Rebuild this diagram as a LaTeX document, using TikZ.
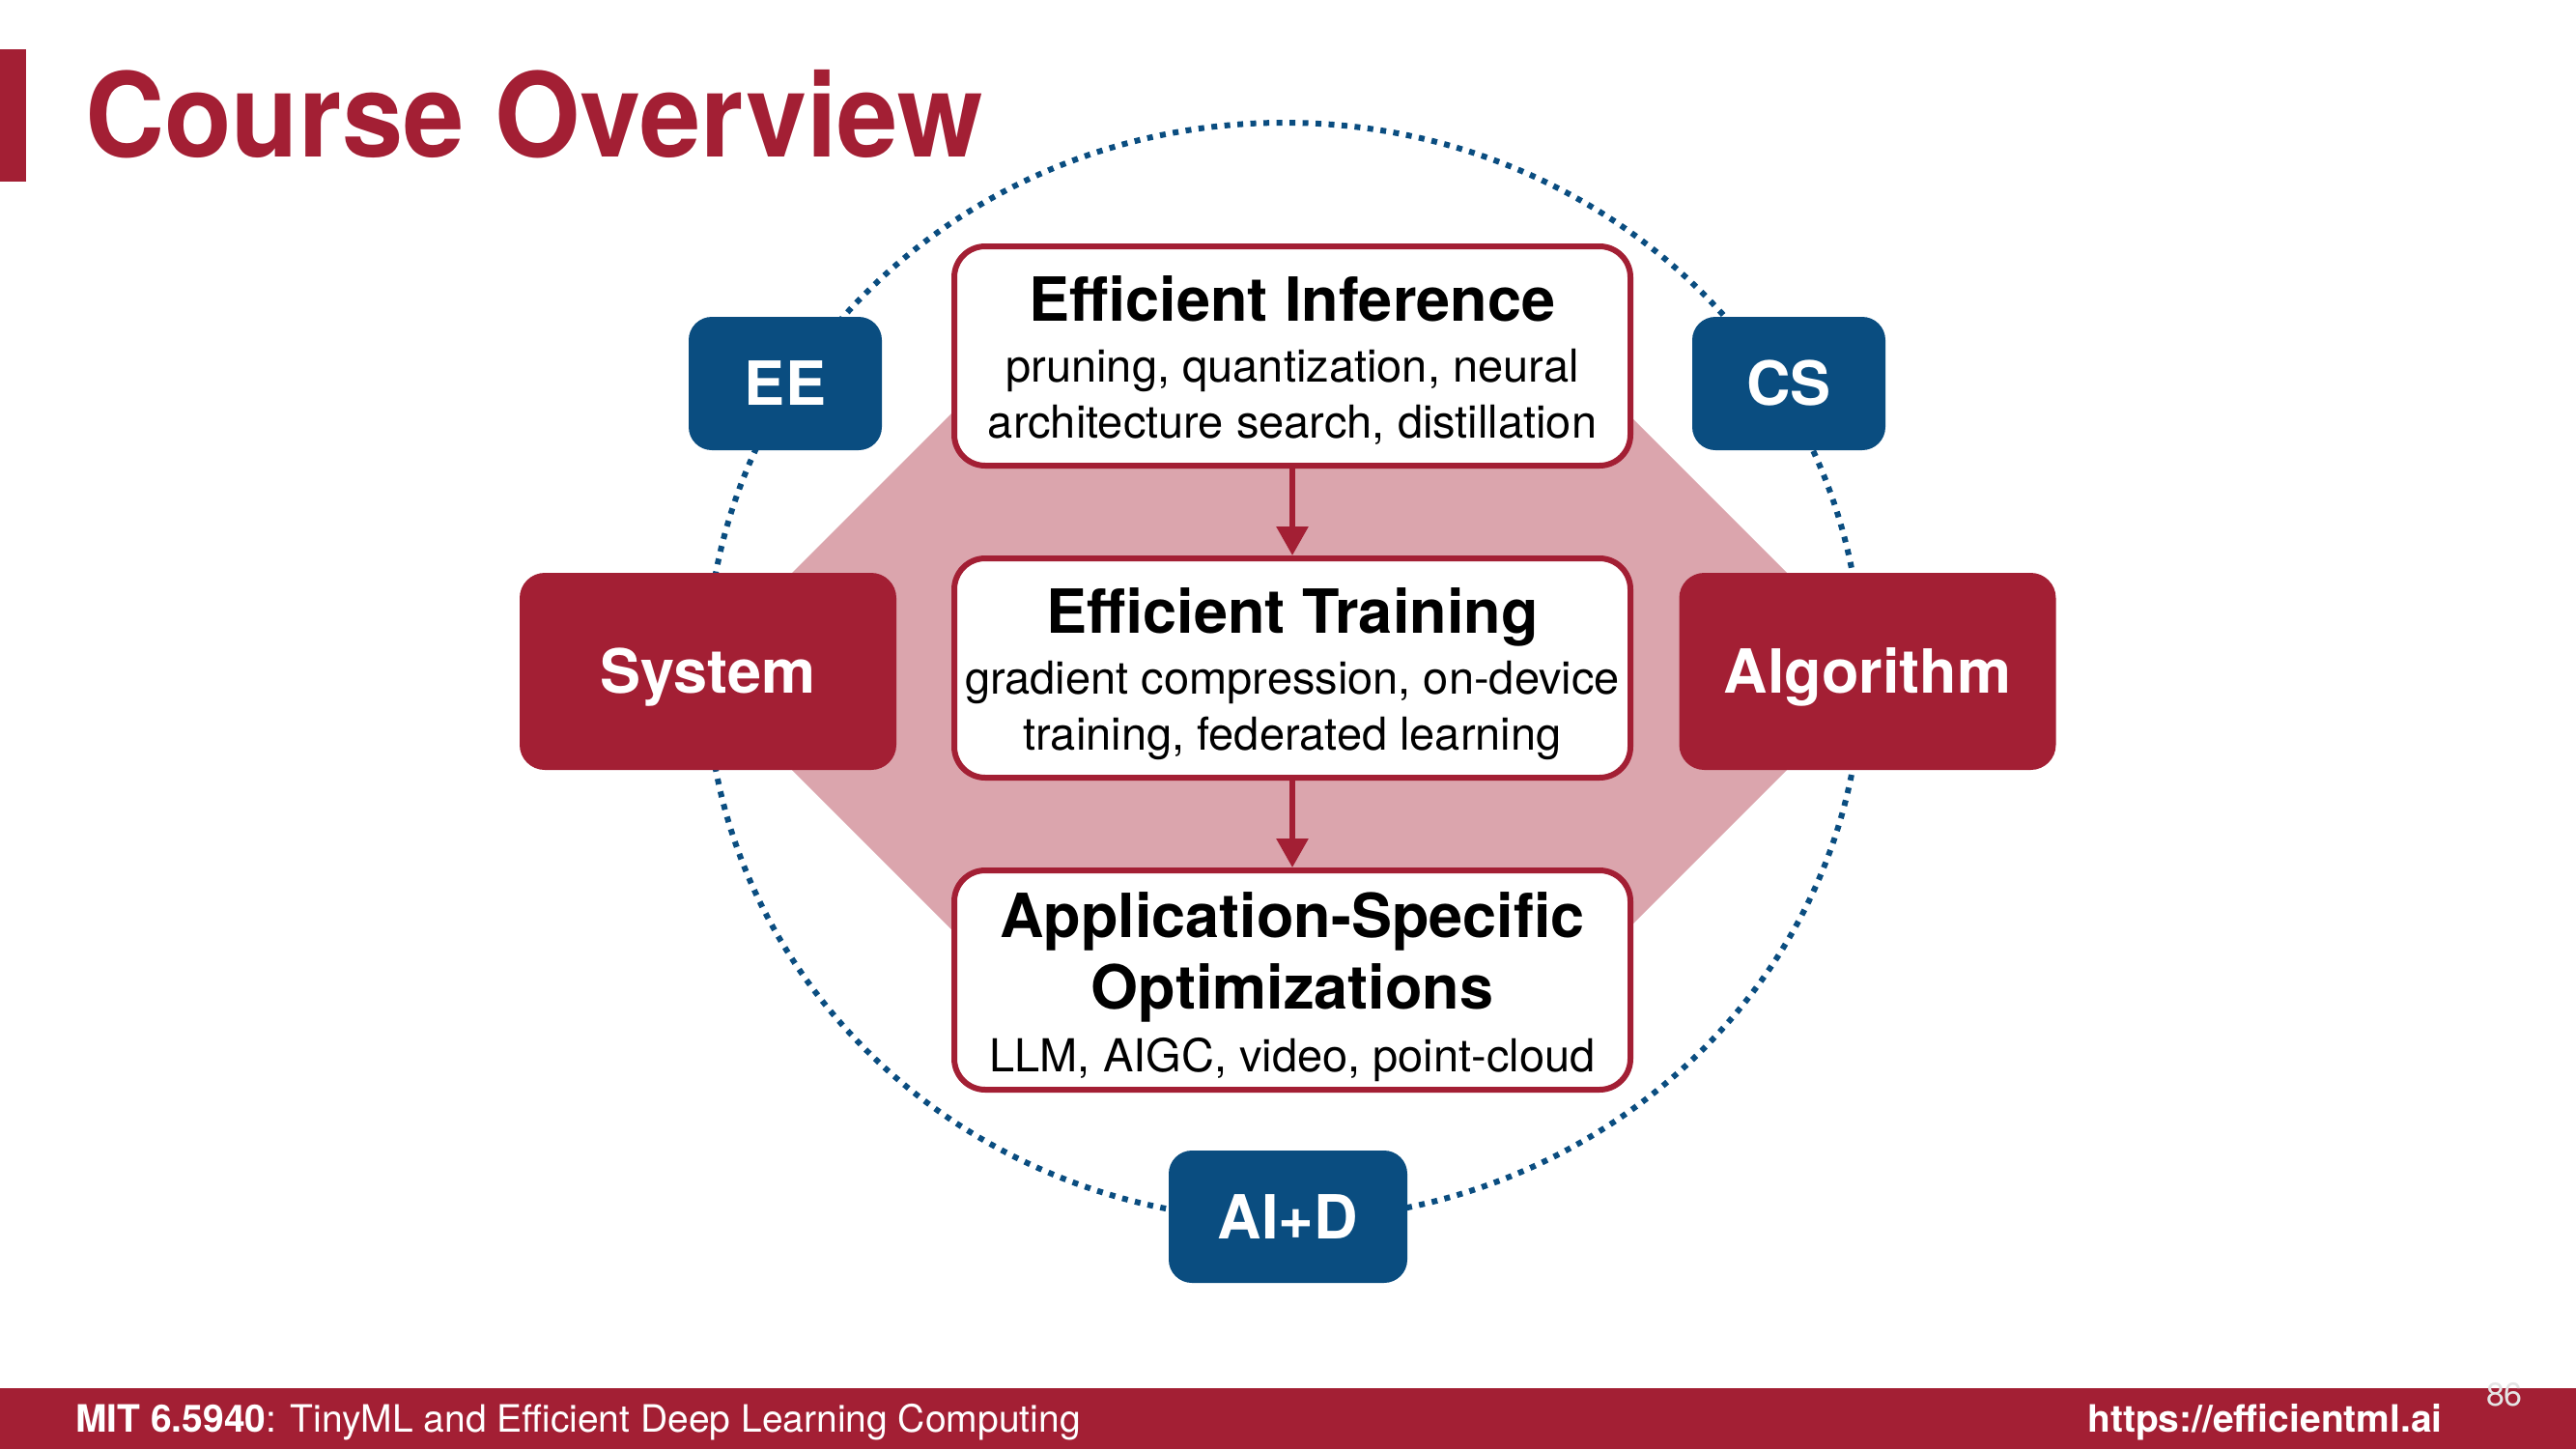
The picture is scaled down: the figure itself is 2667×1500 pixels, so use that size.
\documentclass[tikz,border=0pt]{standalone}
\usepackage{graphicx}
\usepackage{fontspec}
\setmainfont{TeX Gyre Heros}
\usetikzlibrary{arrows.meta}

\definecolor{mitred}{RGB}{163,31,52}
\definecolor{mitblue}{RGB}{10,77,128}
\definecolor{hubpink}{RGB}{219,165,173}
\definecolor{pagegray}{RGB}{228,228,228}

\newcommand\pxfont[1]{\fontsize{#1pt}{#1pt}\selectfont}

\begin{document}
\begin{tikzpicture}[x=1pt,y=-1pt,
  topicbox/.style={draw=mitred, line width=6pt, fill=white, rounded corners=32pt,
    minimum width=700pt, minimum height=227pt, inner sep=0pt},
  areabox/.style={fill=mitred, text=white, rounded corners=26pt, inner sep=0pt,
    minimum width=390pt, minimum height=204pt,
    font=\pxfont{63}\bfseries, text height=45pt, text depth=0pt},
  fieldbox/.style={fill=mitblue, text=white, rounded corners=24pt, inner sep=0pt,
    minimum width=200pt, minimum height=138pt,
    font=\pxfont{63}\bfseries, text height=45pt, text depth=0pt},
  heading/.style={anchor=base, inner sep=0pt, font=\pxfont{63}\bfseries},
  detail/.style={anchor=base, inner sep=0pt, font=\pxfont{47}},
  flow/.style={draw=mitred, line width=6pt, -{Triangle[width=32pt,length=30pt]}},
  orbit/.style={draw=mitblue, line width=6pt, dash pattern=on 6pt off 7.5pt},
  footnote/.style={inner sep=0pt, text=white, font=\pxfont{39}},
]
\useasboundingbox (0,0) rectangle (2667,1500);

% title with its side bar
\fill[mitred] (0,51) rectangle (27,188);
\node[anchor=base west, inner sep=0pt, text=mitred, font=\pxfont{121}\bfseries]
  (title) at (88,162) {\scalebox{0.94}[1]{Course Overview}};

% dotted orbit of the four fields
\draw[orbit] (1329.5,695) ellipse [x radius=598pt, y radius=568pt];

% shaded hub behind the three topics
\fill[hubpink] (718,695) -- (1113,300) -- (1557,300) -- (1952,695)
  -- (1557,1090) -- (1113,1090) -- cycle;

% the three topics
\node[topicbox] (inf)   at (1338,368.5) {};
\node[topicbox] (train) at (1338,691.5) {};
\node[topicbox] (app)   at (1338,1014.5) {};

\node[heading] (infT) at (1338,332) {Efficient Inference};
\node[detail]  (infA) at (1338,395) {pruning, quantization, neural};
\node[detail]  (infB) at (1338,453) {architecture search, distillation};

\node[heading] (trainT) at (1338,655) {Efficient Training};
\node[detail]  (trainA) at (1338,718) {gradient compression, on-device};
\node[detail]  (trainB) at (1338,776) {training, federated learning};

\node[heading] (appT) at (1338,970)  {Application-Specific};
\node[heading] (appU) at (1338,1044) {Optimizations};
\node[detail]  (appA) at (1338,1109) {LLM, AIGC, video, point-cloud};

\draw[flow] (inf.south) -- (train.north);
\draw[flow] (train.south) -- (app.north);

% system / algorithm sides
\node[areabox] (sys)  at (733,695)    {System};
\node[areabox] (algo) at (1933.5,695) {Algorithm};

% fields on the orbit
\node[fieldbox] (ee)  at (813,397)  {EE};
\node[fieldbox] (cs)  at (1852,397) {CS};
\node[fieldbox, minimum width=247pt, minimum height=137pt] (aid) at (1333.5,1259.5) {AI+D};

% footer
\fill[mitred] (0,1437) rectangle (2667,1500);
\node[footnote, anchor=base west] (course) at (78,1482)
  {\textbf{MIT 6.5940}: TinyML and Efficient Deep Learning Computing};
\node[footnote, anchor=base east, font=\pxfont{39}\bfseries] (site) at (2529,1482)
  {https://efficientml.ai};
\node[anchor=base east, inner sep=0pt, text=pagegray, font=\pxfont{34}] (page) at (2612,1455) {86};
\end{tikzpicture}
\end{document}
